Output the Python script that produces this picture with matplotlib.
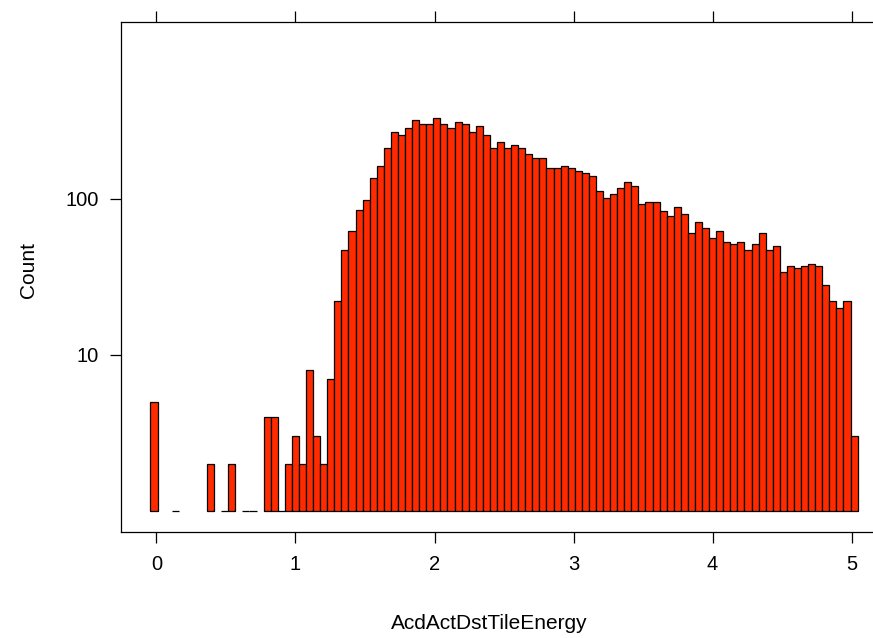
import numpy as np
import matplotlib
matplotlib.use("Agg")
import matplotlib.pyplot as plt

plt.rcParams['font.family'] = ['Liberation Sans', 'DejaVu Sans']

# histogram: 100 equal bins between the data min and max
x_min = -0.043
x_max = 5.043
counts = [
    5, 0, 0, 1, 0, 0, 0, 0, 2, 0,
    1, 2, 0, 1, 1, 0, 4, 4, 1, 2,
    3, 2, 8, 3, 2, 7, 22, 47, 62, 85,
    99, 137, 163, 212, 270, 255, 286, 321, 303, 303,
    330, 303, 285, 313, 303, 270, 295, 255, 212, 233,
    212, 220, 212, 194, 182, 182, 158, 158, 163, 158,
    150, 146, 140, 112, 101, 107, 118, 129, 121, 93,
    96, 96, 83, 78, 88, 80, 60, 71, 65, 56,
    62, 53, 51, 53, 47, 51, 60, 47, 50, 34,
    37, 36, 37, 38, 37, 28, 22, 20, 22, 3,
]
x_ticks = [0, 1, 2, 3, 4, 5]
y_ticks = [10, 100]
y_ticklabels = ['10', '100']

edges = np.linspace(x_min, x_max, len(counts) + 1)
counts = np.array(counts)
keep = counts > 0

fig = plt.figure(figsize=(8.73, 6.38), dpi=100)
ax = fig.add_axes([121 / 873, 1 - 531.5 / 638, 765 / 873, 510 / 638])

ax.bar(edges[:-1][keep], counts[keep] - 1, bottom=1, width=np.diff(edges)[keep],
       align='edge', color='#ff2a00', edgecolor='black', linewidth=0.9)

ax.set_yscale('log')
ax.set_xlim(-0.255, 5.247)
ax.set_ylim(10 ** -0.133, 10 ** 3.137)

ax.set_xticks(x_ticks)
ax.set_yticks(y_ticks)
ax.set_yticklabels(y_ticklabels)
ax.yaxis.set_minor_locator(matplotlib.ticker.NullLocator())
ax.tick_params(axis='x', direction='out', length=8, width=0.9, top=True,
               labeltop=False, labelsize=14.5, pad=9)
ax.tick_params(axis='y', direction='out', length=8, width=0.9, right=False,
               labelsize=14.5, pad=8)
for s in ax.spines.values():
    s.set_linewidth(0.9)
ax.spines['right'].set_visible(False)

ax.set_xlabel('AcdActDstTileEnergy', fontsize=15)
ax.set_ylabel('Count', fontsize=15)
ax.xaxis.set_label_coords(0.482, -0.162)
ax.yaxis.set_label_coords(-0.108, 0.513)

fig.savefig('out.png', dpi=100)
